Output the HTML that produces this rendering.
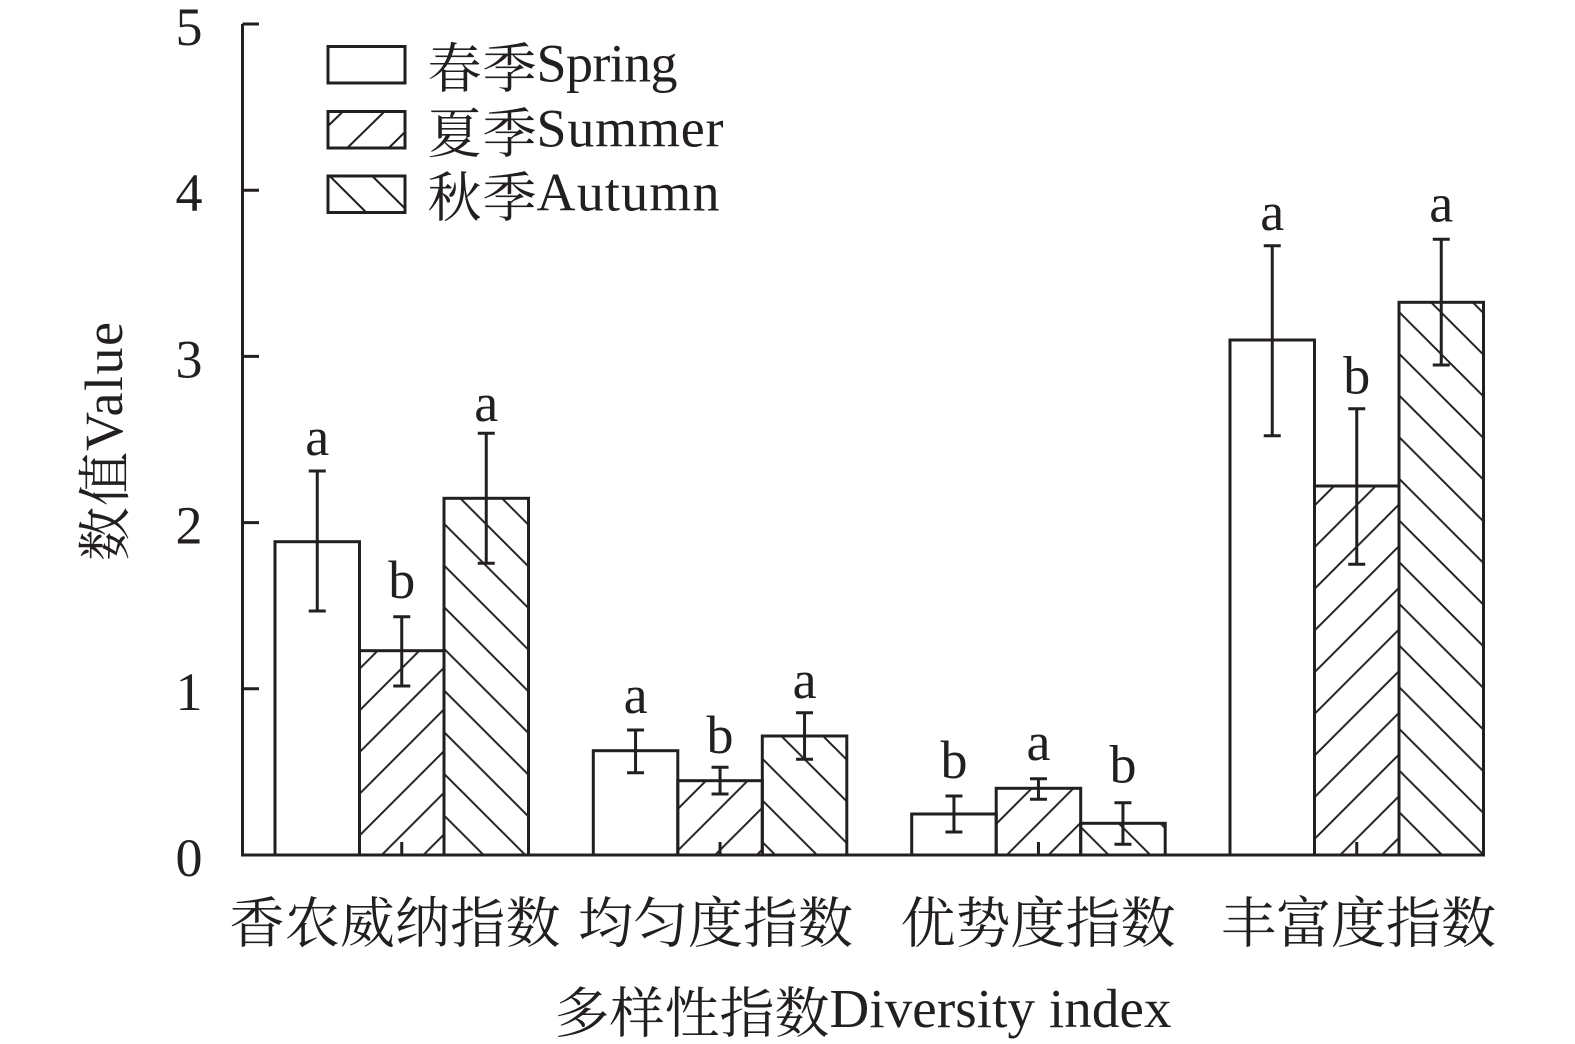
<!DOCTYPE html>
<html>
<head>
<meta charset="utf-8">
<style>
  html, body { margin: 0; padding: 0; background: #ffffff; }
  svg { display: block; }
  text { font-family: "Liberation Serif", "Noto Serif CJK SC", serif; fill: #231f20; }
</style>
</head>
<body>
<svg width="1575" height="1044" viewBox="0 0 1575 1044" xmlns="http://www.w3.org/2000/svg">
  <defs>
    <pattern id="hs" patternUnits="userSpaceOnUse" x="28.3" y="0" width="41.67" height="41.67">
      <path d="M-2,43.67 L43.67,-2 M-2,2 L2,-2 M39.67,43.67 L43.67,39.67" stroke="#231f20" stroke-width="2" fill="none"/>
    </pattern>
    <pattern id="ha" patternUnits="userSpaceOnUse" x="0" y="38" width="41.67" height="41.67">
      <path d="M-2,-2 L43.67,43.67 M-2,39.67 L2,43.67 M39.67,-2 L43.67,2" stroke="#231f20" stroke-width="2" fill="none"/>
    </pattern>
  </defs>

  <rect x="0" y="0" width="1575" height="1044" fill="#ffffff"/>

  <!-- Bars -->
  <g stroke="#231f20" stroke-width="3">
    <!-- Group 1 -->
    <rect x="275" y="541.7" width="84.5" height="313.3" fill="#ffffff"/>
    <rect x="359.5" y="650.7" width="84.5" height="204.3" fill="url(#hs)"/>
    <rect x="444" y="498.3" width="84.5" height="356.7" fill="url(#ha)"/>
    <!-- Group 2 -->
    <rect x="593.3" y="750.7" width="84.5" height="104.3" fill="#ffffff"/>
    <rect x="677.8" y="780.7" width="84.5" height="74.3" fill="url(#hs)"/>
    <rect x="762.3" y="736" width="84.5" height="119" fill="url(#ha)"/>
    <!-- Group 3 -->
    <rect x="911.7" y="814" width="84.5" height="41" fill="#ffffff"/>
    <rect x="996.2" y="788.3" width="84.5" height="66.7" fill="url(#hs)"/>
    <rect x="1080.7" y="823.3" width="84.5" height="31.7" fill="url(#ha)"/>
    <!-- Group 4 -->
    <rect x="1230" y="340" width="84.5" height="515" fill="#ffffff"/>
    <rect x="1314.5" y="486" width="84.5" height="369" fill="url(#hs)"/>
    <rect x="1399" y="302.3" width="84.5" height="552.7" fill="url(#ha)"/>
  </g>

  <!-- Axes -->
  <g stroke="#231f20" stroke-width="3" fill="none">
    <path d="M242.5,24 L242.5,855 L1483.5,855"/>
    <path d="M242.5,24 L259,24 M242.5,190.2 L259,190.2 M242.5,356.4 L259,356.4 M242.5,522.6 L259,522.6 M242.5,688.8 L259,688.8"/>
    <!-- x-axis ticks at group centers -->
    <path d="M401.75,855 L401.75,842 M720.05,855 L720.05,842 M1038.45,855 L1038.45,842 M1356.75,855 L1356.75,842"/>
  </g>

  <!-- Error bars -->
  <g stroke="#231f20" stroke-width="3" fill="none">
    <path d="M317.25,471 L317.25,611 M308.75,471 L325.75,471 M308.75,611 L325.75,611"/>
    <path d="M401.75,616.7 L401.75,686 M393.25,616.7 L410.25,616.7 M393.25,686 L410.25,686"/>
    <path d="M486.25,433.3 L486.25,563.3 M477.75,433.3 L494.75,433.3 M477.75,563.3 L494.75,563.3"/>

    <path d="M635.55,730 L635.55,772.7 M627.05,730 L644.05,730 M627.05,772.7 L644.05,772.7"/>
    <path d="M720.05,767.3 L720.05,794 M711.55,767.3 L728.55,767.3 M711.55,794 L728.55,794"/>
    <path d="M804.55,712.7 L804.55,759.3 M796.05,712.7 L813.05,712.7 M796.05,759.3 L813.05,759.3"/>

    <path d="M953.95,796 L953.95,832 M945.45,796 L962.45,796 M945.45,832 L962.45,832"/>
    <path d="M1038.45,778.7 L1038.45,799.3 M1029.95,778.7 L1046.95,778.7 M1029.95,799.3 L1046.95,799.3"/>
    <path d="M1122.95,802.7 L1122.95,844.3 M1114.45,802.7 L1131.45,802.7 M1114.45,844.3 L1131.45,844.3"/>

    <path d="M1272.25,245.7 L1272.25,435.7 M1263.75,245.7 L1280.75,245.7 M1263.75,435.7 L1280.75,435.7"/>
    <path d="M1356.75,408.7 L1356.75,564.3 M1348.25,408.7 L1365.25,408.7 M1348.25,564.3 L1365.25,564.3"/>
    <path d="M1441.25,239.3 L1441.25,365 M1432.75,239.3 L1449.75,239.3 M1432.75,365 L1449.75,365"/>
  </g>

  <!-- Significance letters -->
  <g font-size="54" text-anchor="middle">
    <text x="317.25" y="455">a</text>
    <text x="401.75" y="598">b</text>
    <text x="486.25" y="421">a</text>
    <text x="635.55" y="713">a</text>
    <text x="720.05" y="753">b</text>
    <text x="804.55" y="698">a</text>
    <text x="953.95" y="778">b</text>
    <text x="1038.45" y="760">a</text>
    <text x="1122.95" y="782.7">b</text>
    <text x="1272.25" y="230">a</text>
    <text x="1356.75" y="393.3">b</text>
    <text x="1441.25" y="221.7">a</text>
  </g>

  <!-- Y tick labels -->
  <g font-size="54" text-anchor="middle">
    <text x="189" y="45">5</text>
    <text x="189" y="211.2">4</text>
    <text x="189" y="377.4">3</text>
    <text x="189" y="543.6">2</text>
    <text x="189" y="709.8">1</text>
    <text x="189" y="876">0</text>
  </g>

  <!-- Y axis title -->
  <text font-size="54" transform="translate(124,561) rotate(-90)" textLength="109" lengthAdjust="spacing">数值</text>
  <text font-size="54" transform="translate(122,451) rotate(-90)" textLength="129" lengthAdjust="spacing">Value</text>

  <!-- Legend -->
  <g stroke="#231f20" stroke-width="3" fill="#ffffff">
    <rect x="328" y="46.5" width="77" height="36.5"/>
    <rect x="328" y="111.5" width="77" height="36.5"/>
    <rect x="328" y="176" width="77" height="36.5"/>
  </g>
  <g stroke="#231f20" stroke-width="2" fill="none">
    <path d="M328,126 L343,111.5 M347.2,148 L384.5,111.5 M388.7,148 L405,132"/>
    <path d="M329.7,176 L366.3,212.5 M372.2,176 L405,208.5"/>
  </g>
  <g font-size="54">
    <text x="427.5" y="87.7" textLength="109" lengthAdjust="spacing">春季</text>
    <text x="536.5" y="81.7" textLength="141" lengthAdjust="spacing">Spring</text>
    <text x="427.5" y="152.7" textLength="109" lengthAdjust="spacing">夏季</text>
    <text x="536.5" y="146.7" textLength="187" lengthAdjust="spacing">Summer</text>
    <text x="427.5" y="216.7" textLength="109" lengthAdjust="spacing">秋季</text>
    <text x="536.5" y="210.7" textLength="183" lengthAdjust="spacing">Autumn</text>
  </g>

  <!-- Category labels -->
  <g font-size="55">
    <text x="229.5" y="942.7" textLength="331" lengthAdjust="spacing">香农威纳指数</text>
    <text x="578" y="942.7" textLength="275" lengthAdjust="spacing">均匀度指数</text>
    <text x="900.5" y="942.7" textLength="275" lengthAdjust="spacing">优势度指数</text>
    <text x="1221" y="942.7" textLength="275" lengthAdjust="spacing">丰富度指数</text>
  </g>

  <!-- X axis title -->
  <g font-size="55">
    <text x="554.5" y="1032.5" textLength="275" lengthAdjust="spacing">多样性指数</text>
    <text x="829.5" y="1027" textLength="342" lengthAdjust="spacing">Diversity index</text>
  </g>
</svg>
</body>
</html>
